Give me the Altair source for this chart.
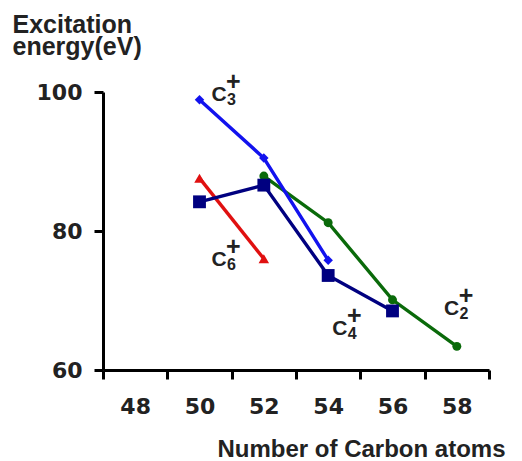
import altair as alt
import pandas as pd

# ---- data ----
series_names = ["C2", "C6", "C4", "C3"]
sub_digits = ["2", "6", "4", "3"]
colors = ["#0a6a0a", "#e01010", "#000080", "#1212ee"]
shapes = ["circle", "triangle-up", "square", "diamond"]
marker_sizes = [80, 110, 165, 90]

c2_x = [52, 54, 56, 58]
c2_y = [87.9, 81.2, 70.1, 63.4]
c6_x = [50, 52]
c6_y = [87.6, 76.0]
c4_x = [50, 52, 54, 56]
c4_y = [84.2, 86.6, 73.6, 68.5]
c3_x = [50, 52, 54]
c3_y = [98.9, 90.5, 75.8]

label_x = [57.6, 50.37, 54.13, 50.37]
label_y = [67.9, 74.9, 65.0, 98.75]

x_tick_values = [47, 49, 51, 53, 55, 57, 59]
x_tick_labels = ["48", "50", "52", "54", "56", "58", ""]
y_tick_values = [60, 80, 100]

series_x = [c2_x, c6_x, c4_x, c3_x]
series_y = [c2_y, c6_y, c4_y, c3_y]

# ---- encodings ----
label_expr = ""
for v, t in zip(x_tick_values, x_tick_labels):
    label_expr += f"datum.value == {v} ? '{t}' : "
label_expr += "''"

W, H = 386, 278
unit_px = W / 12.0

x_axis = alt.Axis(
    values=x_tick_values, labelExpr=label_expr, labelOffset=unit_px,
    labelFlush=False, labelOverlap=False, labelBound=False,
    tickSize=9, tickWidth=3, tickColor="black",
    domainWidth=3, domainColor="black", grid=False,
    labelFont="DejaVu Sans", labelFontWeight="bold", labelFontSize=22,
    labelColor="#222222", labelPadding=17,
    title="Number of Carbon atoms", titleFont="Liberation Sans",
    titleFontWeight="bold", titleFontSize=24, titleColor="#222222",
    titleX=402, titleY=86, titleAlign="right", titleAnchor="end",
    titleBaseline="alphabetic",
)
y_axis = alt.Axis(
    values=y_tick_values, format="d",
    tickSize=9, tickWidth=3, tickColor="black",
    domainWidth=3, domainColor="black", grid=False,
    labelFont="DejaVu Sans", labelFontWeight="bold", labelFontSize=22,
    labelColor="#222222", labelPadding=12,
    title=["Excitation", "energy(eV)"], titleFont="Liberation Sans",
    titleFontWeight="bold", titleFontSize=25, titleColor="#222222",
    titleAngle=0, titleX=-91, titleY=-60, titleAlign="left",
    titleAnchor="start", titleBaseline="alphabetic", titleLineHeight=22,
)

def xe():
    return alt.X("x:Q", scale=alt.Scale(domain=[47, 59], nice=False, zero=False), axis=x_axis)

def ye():
    return alt.Y("y:Q", scale=alt.Scale(domain=[60, 100], nice=False, zero=False), axis=y_axis)

layers = []
for name, xs, ys, col, shp, sz in zip(series_names, series_x, series_y, colors, shapes, marker_sizes):
    df = pd.DataFrame({"x": xs, "y": ys, "series": name})
    base = alt.Chart(df).encode(x=xe(), y=ye())
    layers.append(base.mark_line(color=col, strokeWidth=3.4))
    layers.append(base.mark_point(shape=shp, filled=True, opacity=1, color=col, size=sz))

lab = pd.DataFrame({"x": label_x, "y": label_y, "sub": sub_digits, "c": ["C"] * 4, "plus": ["+"] * 4})
lbase = alt.Chart(lab).encode(x=xe(), y=ye())
layers.append(lbase.mark_text(align="left", baseline="alphabetic", font="Liberation Sans",
                              fontWeight="bold", fontSize=21, color="#222222").encode(text="c:N"))
layers.append(lbase.mark_text(align="left", baseline="alphabetic", font="Liberation Sans",
                              fontWeight="bold", fontSize=16, color="#222222", dx=15.5, dy=4).encode(text="sub:N"))
layers.append(lbase.mark_text(align="center", baseline="alphabetic", font="Liberation Sans",
                              fontWeight="bold", fontSize=25, color="#222222", dx=22, dy=-11).encode(text="plus:N"))

chart = alt.layer(*layers).properties(
    width=W, height=H,
    autosize=alt.AutoSizeParams(type="none"),
    padding={"left": 103, "top": 92, "right": 33, "bottom": 91},
    background="white",
).configure_view(stroke=None)

chart.save("out.html", embed_options={"renderer": "svg", "actions": False})
